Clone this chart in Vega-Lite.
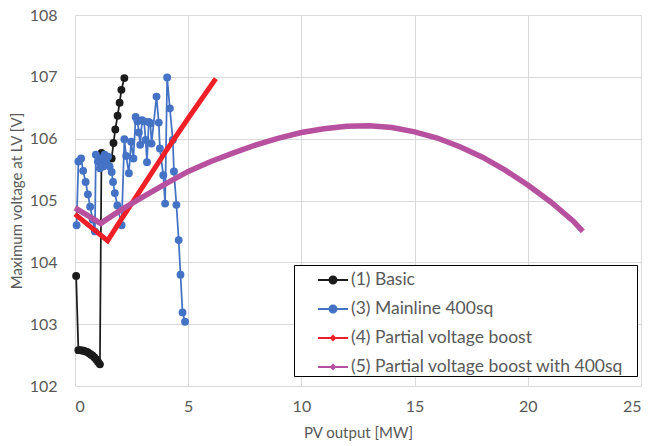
{
  "$schema": "https://vega.github.io/schema/vega-lite/v6.json",
  "autosize": {"type": "none"},
  "width": 566,
  "height": 371,
  "padding": {"left": 75, "top": 15, "right": 11, "bottom": 60},
  "background": "white",
  "config": {
    "font": "Lato",
    "view": {"stroke": null},
    "axis": {
      "gridColor": "#d9d9d9",
      "gridWidth": 1,
      "domain": false,
      "ticks": false,
      "labelColor": "#595959",
      "labelFontSize": 16,
      "titleColor": "#595959",
      "titleFontSize": 15,
      "titleFontWeight": "normal"
    }
  },
  "datasets": {
    "pts": [
      {"series": "(1) Basic", "i": 0, "x": 0.05, "y": 103.78},
      {"series": "(1) Basic", "i": 1, "x": 0.15, "y": 102.58},
      {"series": "(1) Basic", "i": 2, "x": 0.22, "y": 102.58},
      {"series": "(1) Basic", "i": 3, "x": 0.3, "y": 102.575},
      {"series": "(1) Basic", "i": 4, "x": 0.38, "y": 102.57},
      {"series": "(1) Basic", "i": 5, "x": 0.46, "y": 102.56},
      {"series": "(1) Basic", "i": 6, "x": 0.54, "y": 102.55},
      {"series": "(1) Basic", "i": 7, "x": 0.62, "y": 102.53},
      {"series": "(1) Basic", "i": 8, "x": 0.7, "y": 102.51},
      {"series": "(1) Basic", "i": 9, "x": 0.78, "y": 102.49},
      {"series": "(1) Basic", "i": 10, "x": 0.86, "y": 102.46},
      {"series": "(1) Basic", "i": 11, "x": 0.94, "y": 102.43},
      {"series": "(1) Basic", "i": 12, "x": 1.02, "y": 102.39},
      {"series": "(1) Basic", "i": 13, "x": 1.1, "y": 102.35},
      {"series": "(1) Basic", "i": 14, "x": 1.17, "y": 105.77},
      {"series": "(1) Basic", "i": 15, "x": 1.62, "y": 105.68},
      {"series": "(1) Basic", "i": 16, "x": 1.7, "y": 105.93},
      {"series": "(1) Basic", "i": 17, "x": 1.78, "y": 106.15},
      {"series": "(1) Basic", "i": 18, "x": 1.88, "y": 106.37},
      {"series": "(1) Basic", "i": 19, "x": 1.97, "y": 106.58},
      {"series": "(1) Basic", "i": 20, "x": 2.05, "y": 106.79},
      {"series": "(1) Basic", "i": 21, "x": 2.18, "y": 106.98},

      {"series": "(3) Mainline 400sq", "i": 0, "x": 0.07, "y": 104.6},
      {"series": "(3) Mainline 400sq", "i": 1, "x": 0.15, "y": 105.63},
      {"series": "(3) Mainline 400sq", "i": 2, "x": 0.27, "y": 105.68},
      {"series": "(3) Mainline 400sq", "i": 3, "x": 0.36, "y": 105.48},
      {"series": "(3) Mainline 400sq", "i": 4, "x": 0.47, "y": 105.3},
      {"series": "(3) Mainline 400sq", "i": 5, "x": 0.57, "y": 105.1},
      {"series": "(3) Mainline 400sq", "i": 6, "x": 0.67, "y": 104.9},
      {"series": "(3) Mainline 400sq", "i": 7, "x": 0.78, "y": 104.69},
      {"series": "(3) Mainline 400sq", "i": 8, "x": 0.88, "y": 104.5},
      {"series": "(3) Mainline 400sq", "i": 9, "x": 0.92, "y": 105.74},
      {"series": "(3) Mainline 400sq", "i": 10, "x": 1.01, "y": 105.63},
      {"series": "(3) Mainline 400sq", "i": 11, "x": 1.1, "y": 105.52},
      {"series": "(3) Mainline 400sq", "i": 12, "x": 1.16, "y": 105.68},
      {"series": "(3) Mainline 400sq", "i": 13, "x": 1.24, "y": 105.55},
      {"series": "(3) Mainline 400sq", "i": 14, "x": 1.31, "y": 105.74},
      {"series": "(3) Mainline 400sq", "i": 15, "x": 1.4, "y": 105.6},
      {"series": "(3) Mainline 400sq", "i": 16, "x": 1.46, "y": 105.71},
      {"series": "(3) Mainline 400sq", "i": 17, "x": 1.53, "y": 105.55},
      {"series": "(3) Mainline 400sq", "i": 18, "x": 1.62, "y": 105.46},
      {"series": "(3) Mainline 400sq", "i": 19, "x": 1.68, "y": 105.3},
      {"series": "(3) Mainline 400sq", "i": 20, "x": 1.76, "y": 105.12},
      {"series": "(3) Mainline 400sq", "i": 21, "x": 1.87, "y": 104.92},
      {"series": "(3) Mainline 400sq", "i": 22, "x": 2.06, "y": 104.6},
      {"series": "(3) Mainline 400sq", "i": 23, "x": 2.18, "y": 105.99},
      {"series": "(3) Mainline 400sq", "i": 24, "x": 2.26, "y": 105.72},
      {"series": "(3) Mainline 400sq", "i": 25, "x": 2.38, "y": 105.44},
      {"series": "(3) Mainline 400sq", "i": 26, "x": 2.48, "y": 105.95},
      {"series": "(3) Mainline 400sq", "i": 27, "x": 2.58, "y": 105.68},
      {"series": "(3) Mainline 400sq", "i": 28, "x": 2.68, "y": 106.35},
      {"series": "(3) Mainline 400sq", "i": 29, "x": 2.76, "y": 106.28},
      {"series": "(3) Mainline 400sq", "i": 30, "x": 2.82, "y": 106.1},
      {"series": "(3) Mainline 400sq", "i": 31, "x": 2.88, "y": 105.9},
      {"series": "(3) Mainline 400sq", "i": 32, "x": 2.96, "y": 106.3},
      {"series": "(3) Mainline 400sq", "i": 33, "x": 3.05, "y": 106.28},
      {"series": "(3) Mainline 400sq", "i": 34, "x": 3.12, "y": 105.98},
      {"series": "(3) Mainline 400sq", "i": 35, "x": 3.18, "y": 105.62},
      {"series": "(3) Mainline 400sq", "i": 36, "x": 3.26, "y": 106.27},
      {"series": "(3) Mainline 400sq", "i": 37, "x": 3.33, "y": 106.25},
      {"series": "(3) Mainline 400sq", "i": 38, "x": 3.38, "y": 105.92},
      {"series": "(3) Mainline 400sq", "i": 39, "x": 3.6, "y": 106.68},
      {"series": "(3) Mainline 400sq", "i": 40, "x": 3.7, "y": 106.26},
      {"series": "(3) Mainline 400sq", "i": 41, "x": 3.75, "y": 105.84},
      {"series": "(3) Mainline 400sq", "i": 42, "x": 3.9, "y": 105.41},
      {"series": "(3) Mainline 400sq", "i": 43, "x": 3.98, "y": 104.95},
      {"series": "(3) Mainline 400sq", "i": 44, "x": 4.07, "y": 106.99},
      {"series": "(3) Mainline 400sq", "i": 45, "x": 4.19, "y": 106.49},
      {"series": "(3) Mainline 400sq", "i": 46, "x": 4.32, "y": 105.98},
      {"series": "(3) Mainline 400sq", "i": 47, "x": 4.37, "y": 105.47},
      {"series": "(3) Mainline 400sq", "i": 48, "x": 4.48, "y": 104.93},
      {"series": "(3) Mainline 400sq", "i": 49, "x": 4.58, "y": 104.36},
      {"series": "(3) Mainline 400sq", "i": 50, "x": 4.66, "y": 103.8},
      {"series": "(3) Mainline 400sq", "i": 51, "x": 4.75, "y": 103.19},
      {"series": "(3) Mainline 400sq", "i": 52, "x": 4.86, "y": 103.04},

      {"series": "(4) Partial voltage boost", "i": 0, "x": 0.0, "y": 104.78},
      {"series": "(4) Partial voltage boost", "i": 1, "x": 0.5, "y": 104.63},
      {"series": "(4) Partial voltage boost", "i": 2, "x": 1.0, "y": 104.48},
      {"series": "(4) Partial voltage boost", "i": 3, "x": 1.44, "y": 104.35},
      {"series": "(4) Partial voltage boost", "i": 4, "x": 2.0, "y": 104.67},
      {"series": "(4) Partial voltage boost", "i": 5, "x": 3.0, "y": 105.23},
      {"series": "(4) Partial voltage boost", "i": 6, "x": 4.0, "y": 105.79},
      {"series": "(4) Partial voltage boost", "i": 7, "x": 5.0, "y": 106.33},
      {"series": "(4) Partial voltage boost", "i": 8, "x": 6.22, "y": 106.97},

      {"series": "(5) Partial voltage boost with 400sq", "i": 0, "x": 0.0, "y": 104.88},
      {"series": "(5) Partial voltage boost with 400sq", "i": 1, "x": 0.5, "y": 104.77},
      {"series": "(5) Partial voltage boost with 400sq", "i": 2, "x": 1.13, "y": 104.63},
      {"series": "(5) Partial voltage boost with 400sq", "i": 3, "x": 2.0, "y": 104.84},
      {"series": "(5) Partial voltage boost with 400sq", "i": 4, "x": 3.0, "y": 105.06},
      {"series": "(5) Partial voltage boost with 400sq", "i": 5, "x": 4.0, "y": 105.27},
      {"series": "(5) Partial voltage boost with 400sq", "i": 6, "x": 5.0, "y": 105.47},
      {"series": "(5) Partial voltage boost with 400sq", "i": 7, "x": 6.0, "y": 105.63},
      {"series": "(5) Partial voltage boost with 400sq", "i": 8, "x": 7.0, "y": 105.77},
      {"series": "(5) Partial voltage boost with 400sq", "i": 9, "x": 8.0, "y": 105.9},
      {"series": "(5) Partial voltage boost with 400sq", "i": 10, "x": 9.0, "y": 106.01},
      {"series": "(5) Partial voltage boost with 400sq", "i": 11, "x": 10.0, "y": 106.1},
      {"series": "(5) Partial voltage boost with 400sq", "i": 12, "x": 11.0, "y": 106.16},
      {"series": "(5) Partial voltage boost with 400sq", "i": 13, "x": 12.0, "y": 106.2},
      {"series": "(5) Partial voltage boost with 400sq", "i": 14, "x": 13.0, "y": 106.21},
      {"series": "(5) Partial voltage boost with 400sq", "i": 15, "x": 14.0, "y": 106.18},
      {"series": "(5) Partial voltage boost with 400sq", "i": 16, "x": 15.0, "y": 106.11},
      {"series": "(5) Partial voltage boost with 400sq", "i": 17, "x": 16.0, "y": 106.01},
      {"series": "(5) Partial voltage boost with 400sq", "i": 18, "x": 17.0, "y": 105.87},
      {"series": "(5) Partial voltage boost with 400sq", "i": 19, "x": 18.0, "y": 105.7},
      {"series": "(5) Partial voltage boost with 400sq", "i": 20, "x": 19.0, "y": 105.49},
      {"series": "(5) Partial voltage boost with 400sq", "i": 21, "x": 20.0, "y": 105.25},
      {"series": "(5) Partial voltage boost with 400sq", "i": 22, "x": 21.0, "y": 104.98},
      {"series": "(5) Partial voltage boost with 400sq", "i": 23, "x": 22.0, "y": 104.67},
      {"series": "(5) Partial voltage boost with 400sq", "i": 24, "x": 22.43, "y": 104.5}
    ]
  },
  "data": {"name": "pts"},
  "encoding": {
    "x": {
      "field": "x", "type": "quantitative",
      "scale": {"domain": [0, 25], "nice": false, "zero": false},
      "axis": {"values": [0, 5, 10, 15, 20, 25], "title": "PV output [MW]", "labelPadding": 12, "titlePadding": 11, "grid": true}
    },
    "y": {
      "field": "y", "type": "quantitative",
      "scale": {"domain": [102, 108], "nice": false, "zero": false},
      "axis": {"values": [102, 103, 104, 105, 106, 107, 108], "title": "Maximum voltage at LV [V]", "labelPadding": 18, "titlePadding": 5, "grid": true}
    },
    "order": {"field": "i", "type": "quantitative"}
  },
  "layer": [
    {
      "transform": [{"filter": "false"}],
      "mark": {"type": "point", "filled": true, "opacity": 1},
      "encoding": {
        "order": null,
        "color": {"field": "series", "type": "nominal",
          "scale": {"domain": ["(1) Basic", "(3) Mainline 400sq", "(4) Partial voltage boost", "(5) Partial voltage boost with 400sq"],
                    "range": ["#1b1b1b", "#4472C4", "#EE1F26", "#B7509E"]},
          "legend": {
            "title": null, "orient": "none", "legendX": 219, "legendY": 250,
            "strokeColor": "#000000", "fillColor": "white", "padding": 0,
            "rowPadding": 5, "symbolOffset": 24, "labelOffset": 3,
            "labelFont": "Lato", "labelFontSize": 17.5, "labelColor": "#595959",
            "symbolSize": 900, "symbolStrokeWidth": 0, "labelLimit": 500,
            "labelExpr": "datum.label + '\u2800'"
          }},
        "shape": {"field": "series", "type": "nominal",
          "scale": {"domain": ["(1) Basic", "(3) Mainline 400sq", "(4) Partial voltage boost", "(5) Partial voltage boost with 400sq"],
                    "range": [
                      "M-1,-0.06H1V0.06H-1Z M0.3,0A0.3,0.3 0 1,1 -0.3,0A0.3,0.3 0 1,1 0.3,0Z",
                      "M-1,-0.06H1V0.06H-1Z M0.3,0A0.3,0.3 0 1,1 -0.3,0A0.3,0.3 0 1,1 0.3,0Z",
                      "M-1,-0.06H1V0.06H-1Z M0,-0.23L0.23,0L0,0.23L-0.23,0Z",
                      "M-1,-0.06H1V0.06H-1Z M0,-0.23L0.23,0L0,0.23L-0.23,0Z"
                    ]}}
      }
    },
    {
      "transform": [{"filter": "datum.series === '(1) Basic'"}],
      "mark": {"type": "line", "strokeWidth": 1.75, "color": "#1b1b1b"}
    },
    {
      "transform": [{"filter": "datum.series === '(1) Basic'"}],
      "mark": {"type": "circle", "size": 62, "color": "#1b1b1b", "opacity": 1}
    },
    {
      "transform": [{"filter": "datum.series === '(3) Mainline 400sq'"}],
      "mark": {"type": "line", "strokeWidth": 1.75, "color": "#4472C4"}
    },
    {
      "transform": [{"filter": "datum.series === '(3) Mainline 400sq'"}],
      "mark": {"type": "circle", "size": 62, "color": "#4472C4", "opacity": 1}
    },
    {
      "transform": [{"filter": "datum.series === '(4) Partial voltage boost'"}],
      "mark": {"type": "line", "strokeWidth": 5, "color": "#EE1F26"}
    },
    {
      "transform": [{"filter": "datum.series === '(5) Partial voltage boost with 400sq'"}],
      "mark": {"type": "line", "strokeWidth": 5.5, "color": "#B7509E"}
    }
  ]
}
